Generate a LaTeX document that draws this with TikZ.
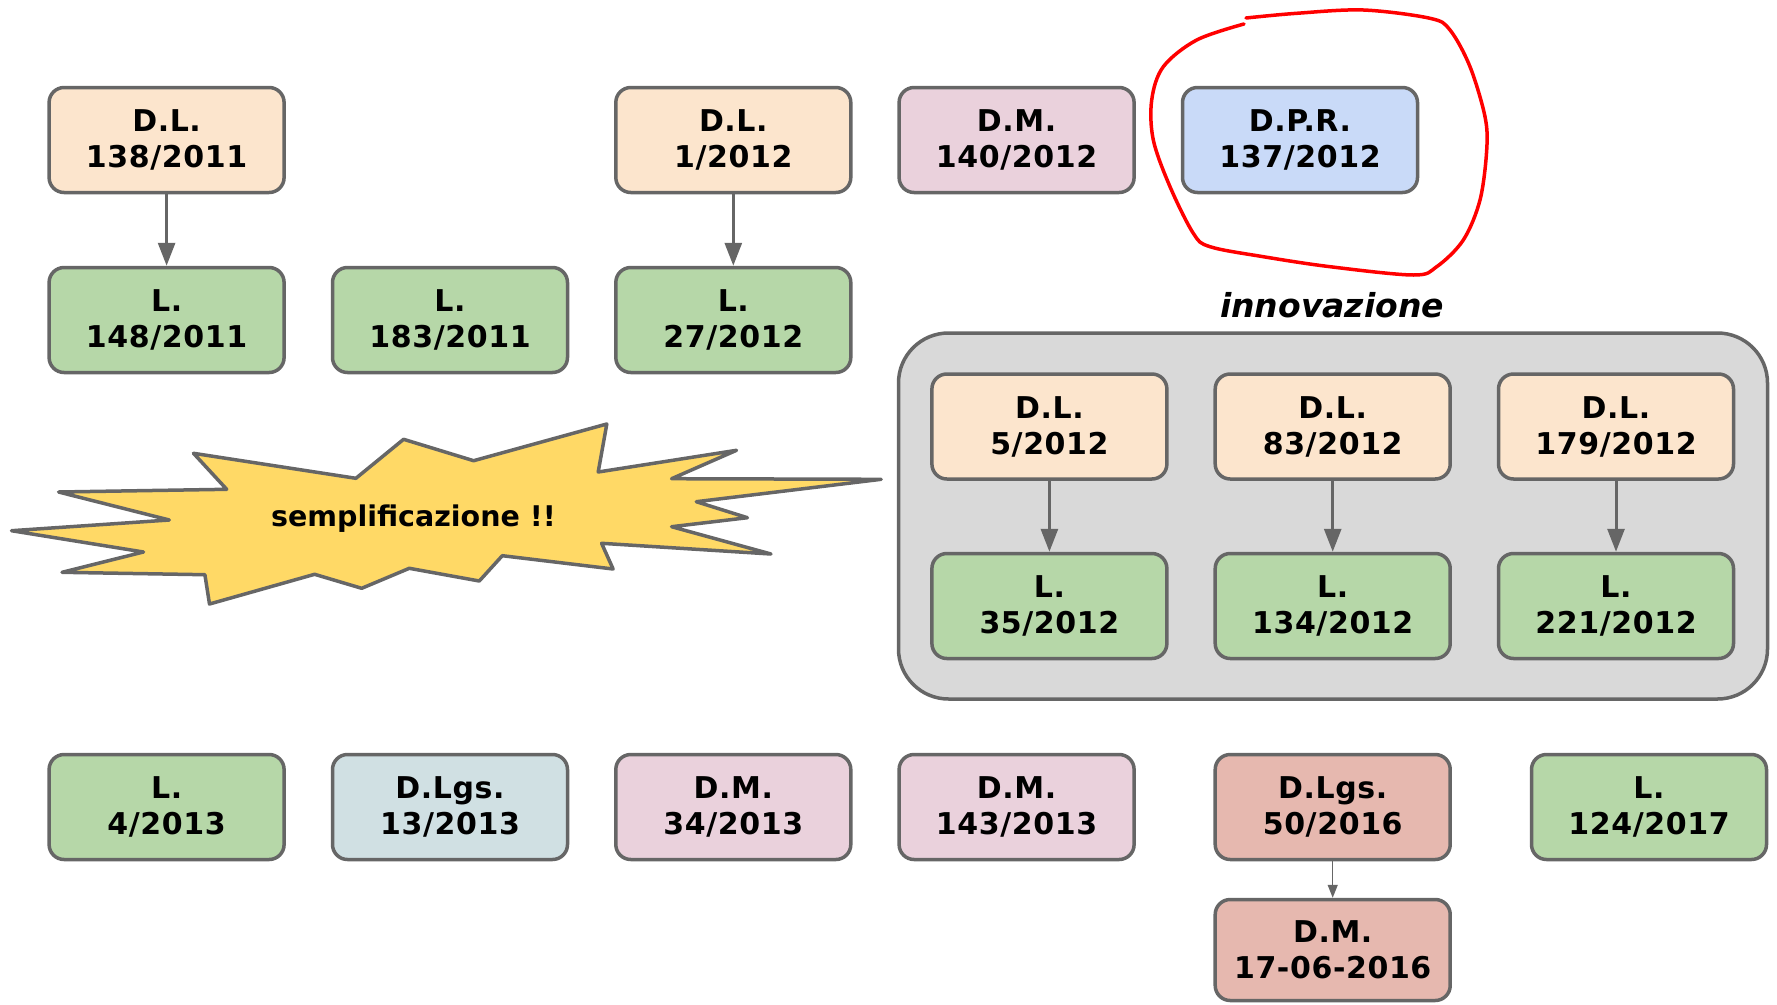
\documentclass[tikz,border=0pt]{standalone}
\usepackage{fontspec}
\setmainfont{DejaVu Sans}
\usetikzlibrary{arrows.meta}
\definecolor{lineg}{HTML}{666666}
\definecolor{cdl}{HTML}{FCE5CD}
\definecolor{cl}{HTML}{B6D7A8}
\definecolor{cdm}{HTML}{EAD1DC}
\definecolor{cdpr}{HTML}{C9DAF8}
\definecolor{cdlgs}{HTML}{D0E0E3}
\definecolor{cred}{HTML}{E6B8AF}
\definecolor{cgray}{HTML}{D9D9D9}
\definecolor{cstar}{HTML}{FFD966}
\definecolor{loopred}{HTML}{FF0000}
\tikzset{
  lawbox/.style={draw=lineg, line width=3.5pt, rounded corners=15pt,
    minimum width=235pt, minimum height=105pt, inner sep=0pt, align=center,
    font=\bfseries\fontsize{30}{36}\selectfont\addfontfeatures{LetterSpace=2}},
  dlbox/.style={lawbox, fill=cdl},
  lbox/.style={lawbox, fill=cl},
  dmbox/.style={lawbox, fill=cdm},
  dprbox/.style={lawbox, fill=cdpr},
  dlgsbox/.style={lawbox, fill=cdlgs},
  redbox/.style={lawbox, fill=cred},
  conn/.style={draw=lineg, line width=3pt, -{Triangle[length=23pt,width=17pt]}},
  thinconn/.style={draw=lineg, line width=1.5pt, -{Triangle[length=13pt,width=10pt]}},
}
\begin{document}
\begin{tikzpicture}[x=1pt,y=-1pt]
\path[use as bounding box] (0,0) rectangle (1777,1004);

% container
\node[draw=lineg, line width=3.5pt, fill=cgray, rounded corners=50pt,
  minimum width=869pt, minimum height=366pt, inner sep=0pt] (innov) at (1333,516) {};
\node[anchor=base, font=\bfseries\itshape\fontsize{33}{40}\selectfont] (innovlabel) at (1332,317) {innovazione};

% star
\path[draw=lineg, line width=3.5pt, line join=round, fill=cstar]
 (11.5,530.7) -- (169.3,520) -- (58.6,492) -- (226.7,489.3) -- (193.5,453.3)
 -- (355.9,478.3) -- (403.6,439.3) -- (473.6,460.7) -- (606.8,424) -- (598.2,472)
 -- (736.5,450.3) -- (671.6,478.7) -- (881.2,479.3) -- (696.3,501.7) -- (747.4,517.7)
 -- (671.6,526.7) -- (771,554) -- (601.6,543.3) -- (613.1,569) -- (502.3,555.7)
 -- (479.3,581) -- (409.3,568.3) -- (361.7,588.3) -- (314.6,574.3) -- (209.5,604)
 -- (204.9,574.7) -- (62,572.3) -- (143.5,552) -- cycle;
\node[anchor=base, font=\bfseries\fontsize{28.5}{34}\selectfont] (star) at (413.5,526) {semplificazione !!};

% row 1
\node[dlbox] (dl138) at (166.6,140) {D.L.\\138/2011};
\node[dlbox] (dl1) at (733.3,140) {D.L.\\1/2012};
\node[dmbox] (dm140) at (1016.6,140) {D.M.\\140/2012};
\node[dprbox] (dpr137) at (1300,140) {D.P.R.\\137/2012};

% row 2
\node[lbox] (l148) at (166.6,320) {L.\\148/2011};
\node[lbox] (l183) at (450,320) {L.\\183/2011};
\node[lbox] (l27) at (733.3,320) {L.\\27/2012};

% inner
\node[dlbox] (dl5) at (1049.4,426.5) {D.L.\\5/2012};
\node[dlbox] (dl83) at (1332.7,426.5) {D.L.\\83/2012};
\node[dlbox] (dl179) at (1616,426.5) {D.L.\\179/2012};
\node[lbox] (l35) at (1049.4,606) {L.\\35/2012};
\node[lbox] (l134) at (1332.7,606) {L.\\134/2012};
\node[lbox] (l221) at (1616,606) {L.\\221/2012};

% bottom row
\node[lbox] (l4) at (166.6,807) {L.\\4/2013};
\node[dlgsbox] (dlgs13) at (450,807) {D.Lgs.\\13/2013};
\node[dmbox] (dm34) at (733.3,807) {D.M.\\34/2013};
\node[dmbox] (dm143) at (1016.6,807) {D.M.\\143/2013};
\node[redbox] (dlgs50) at (1332.7,807) {D.Lgs.\\50/2016};
\node[lbox] (l124) at (1649,807) {L.\\124/2017};
\node[redbox, minimum height=101pt] (dm17) at (1332.7,950) {D.M.\\17-06-2016};

% connectors
\draw[conn] (dl138) -- (l148);
\draw[conn] (dl1) -- (l27);
\draw[conn] (dl5) -- (l35);
\draw[conn] (dl83) -- (l134);
\draw[conn] (dl179) -- (l221);
\draw[thinconn] (dlgs50) -- (dm17);

% red loop
\draw[loopred, line width=3.5pt, line cap=round]
 plot[smooth, tension=0.55] coordinates {
 (1246,18) (1296.7,13.3) (1363.3,10) (1430,18.3) (1450,30) (1470,66.7)
 (1485,116.7) (1486.7,150) (1480,200) (1463.3,240) (1436.7,266.7) (1413.3,275)
 (1330,266.7) (1263.3,256.7) (1210,246.7) (1193.3,233.3) (1170,186.7)
 (1153.3,140) (1151.7,100) (1163.3,66.7) (1196.7,40) (1244,24)};
\end{tikzpicture}
\end{document}
